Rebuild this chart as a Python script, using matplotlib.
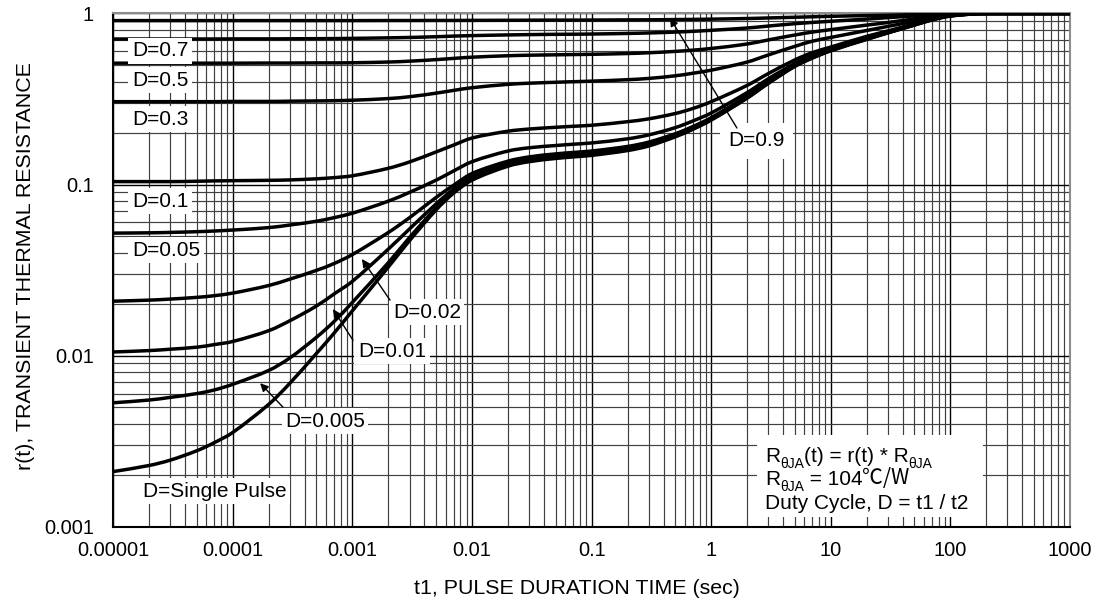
import matplotlib
matplotlib.use("Agg")
import numpy as np
import matplotlib.pyplot as plt
from matplotlib.patches import Rectangle, PathPatch
from matplotlib.path import Path

plt.rcParams['font.family'] = ['Liberation Sans', 'DejaVu Sans']

# ---------------- data ----------------
TIME = [1e-5, 2e-5, 3e-5, 5e-5, 7e-5,
        1e-4, 2e-4, 3e-4, 5e-4, 7e-4,
        1e-3, 2e-3, 3e-3, 5e-3, 7e-3,
        1e-2, 2e-2, 3e-2, 5e-2, 7e-2,
        0.1, 0.2, 0.3, 0.5, 0.7,
        1, 2, 3, 5, 7,
        10, 20, 30, 50, 70,
        100, 200, 300, 500, 700, 1000]

R_D09 = [0.908, 0.908, 0.908, 0.908, 0.908,
         0.908, 0.908, 0.908, 0.908, 0.908,
         0.908, 0.909, 0.909, 0.910, 0.910,
         0.911, 0.912, 0.913, 0.914, 0.914,
         0.915, 0.917, 0.918, 0.921, 0.923,
         0.926, 0.934, 0.941, 0.950, 0.956,
         0.962, 0.972, 0.977, 0.985, 0.991,
         0.996, 1.0, 1.0, 1.0, 1.0, 1.0]
R_D07 = [0.709, 0.709, 0.709, 0.709, 0.709,
         0.710, 0.710, 0.711, 0.712, 0.713,
         0.715, 0.720, 0.724, 0.731, 0.737,
         0.742, 0.749, 0.752, 0.755, 0.756,
         0.758, 0.764, 0.769, 0.778, 0.786,
         0.797, 0.822, 0.844, 0.871, 0.886,
         0.900, 0.927, 0.945, 0.967, 0.982,
         0.994, 1.0, 1.0, 1.0, 1.0, 1.0]
R_D05 = [0.512, 0.512, 0.512, 0.512, 0.512,
         0.512, 0.513, 0.513, 0.514, 0.514,
         0.515, 0.520, 0.526, 0.537, 0.546,
         0.555, 0.566, 0.570, 0.573, 0.575,
         0.577, 0.583, 0.589, 0.600, 0.610,
         0.624, 0.663, 0.700, 0.748, 0.778,
         0.804, 0.855, 0.885, 0.930, 0.962,
         0.986, 1.0, 1.0, 1.0, 1.0, 1.0]
R_D03 = [0.305, 0.305, 0.305, 0.305, 0.305,
         0.306, 0.306, 0.307, 0.308, 0.309,
         0.311, 0.318, 0.326, 0.342, 0.355,
         0.368, 0.385, 0.391, 0.396, 0.399,
         0.402, 0.410, 0.417, 0.432, 0.447,
         0.466, 0.520, 0.572, 0.642, 0.688,
         0.724, 0.795, 0.840, 0.900, 0.947,
         0.981, 1.0, 1.0, 1.0, 1.0, 1.0]
R_D01 = [0.104, 0.104, 0.104, 0.1045, 0.105,
         0.1053, 0.1058, 0.1064, 0.108, 0.1097,
         0.1125, 0.1245, 0.1355, 0.155, 0.170,
         0.187, 0.205, 0.211, 0.216, 0.219,
         0.222, 0.233, 0.242, 0.260, 0.278,
         0.305, 0.380, 0.445, 0.535, 0.590,
         0.636, 0.735, 0.790, 0.870, 0.930,
         0.975, 1.0, 1.0, 1.0, 1.0, 1.0]
R_D005 = [0.052, 0.0522, 0.0525, 0.053, 0.0535,
          0.0542, 0.056, 0.058, 0.061, 0.064,
          0.068, 0.080, 0.090, 0.106, 0.120,
          0.136, 0.157, 0.164, 0.169, 0.172,
          0.175, 0.185, 0.195, 0.215, 0.235,
          0.262, 0.345, 0.415, 0.510, 0.567,
          0.618, 0.720, 0.780, 0.862, 0.925,
          0.972, 1.0, 1.0, 1.0, 1.0, 1.0]
R_D002 = [0.0208, 0.0211, 0.0214, 0.0219, 0.0224,
          0.0232, 0.0257, 0.028, 0.0315, 0.0345,
          0.039, 0.0525, 0.064, 0.084, 0.099,
          0.116, 0.137, 0.145, 0.151, 0.154,
          0.157, 0.167, 0.177, 0.198, 0.218,
          0.246, 0.330, 0.400, 0.500, 0.557,
          0.612, 0.715, 0.775, 0.860, 0.923,
          0.971, 1.0, 1.0, 1.0, 1.0, 1.0]
R_D001 = [0.0105, 0.0107, 0.0109, 0.0112, 0.0116,
          0.0121, 0.0140, 0.0160, 0.0195, 0.0229,
          0.0272, 0.042, 0.055, 0.077, 0.094,
          0.111, 0.132, 0.140, 0.146, 0.149,
          0.152, 0.162, 0.172, 0.194, 0.214,
          0.242, 0.325, 0.395, 0.495, 0.553,
          0.609, 0.713, 0.773, 0.858, 0.922,
          0.970, 1.0, 1.0, 1.0, 1.0, 1.0]
R_D0005 = [0.0053, 0.0055, 0.0057, 0.0060, 0.0063,
           0.0068, 0.0082, 0.0097, 0.0128, 0.0158,
           0.0205, 0.035, 0.049, 0.073, 0.091,
           0.108, 0.130, 0.138, 0.144, 0.147,
           0.150, 0.160, 0.170, 0.192, 0.212,
           0.240, 0.322, 0.392, 0.492, 0.550,
           0.607, 0.708, 0.771, 0.856, 0.918,
           0.967, 1.0, 1.0, 1.0, 1.0, 1.0]
R_SINGLE = [0.0021, 0.00228, 0.00245, 0.00278, 0.0031,
            0.00356, 0.0052, 0.0069, 0.0103, 0.0135,
            0.0183, 0.033, 0.047, 0.071, 0.089,
            0.106, 0.128, 0.136, 0.142, 0.145,
            0.148, 0.158, 0.168, 0.190, 0.210,
            0.238, 0.320, 0.390, 0.490, 0.548,
            0.605, 0.705, 0.770, 0.855, 0.915,
            0.965, 1.0, 1.0, 1.0, 1.0, 1.0]

CURVES = [R_D09, R_D07, R_D05, R_D03, R_D01, R_D005, R_D002, R_D001, R_D0005, R_SINGLE]

X_TICKS = [1e-5, 1e-4, 1e-3, 1e-2, 1e-1, 1, 10, 100, 1000]
X_TICKLABELS = ["0.00001", "0.0001", "0.001", "0.01", "0.1", "1", "10", "100", "1000"]
Y_TICKS = [0.001, 0.01, 0.1, 1]
Y_TICKLABELS = ["0.001", "0.01", "0.1", "1"]


def smooth_curve_path(x, y):
    """Cubic Bezier path through the data points, built in log-log space
    (the points themselves are unchanged; only the drawn segments are curved)."""
    lx = np.log10(np.asarray(x, float))
    ly = np.log10(np.asarray(y, float))
    d = np.diff(ly) / np.diff(lx)
    m = np.zeros_like(lx)
    m[0], m[-1] = d[0], d[-1]
    for i in range(1, len(lx) - 1):
        if d[i - 1] * d[i] > 0:
            m[i] = (ly[i + 1] - ly[i - 1]) / (lx[i + 1] - lx[i - 1])
    verts = [(lx[0], ly[0])]
    codes = [Path.MOVETO]
    for i in range(len(lx) - 1):
        h = lx[i + 1] - lx[i]
        verts += [(lx[i] + h / 3, ly[i] + m[i] * h / 3),
                  (lx[i + 1] - h / 3, ly[i + 1] - m[i + 1] * h / 3),
                  (lx[i + 1], ly[i + 1])]
        codes += [Path.CURVE4] * 3
    verts = 10.0 ** np.array(verts)
    return Path(verts, codes)


# ---------------- figure ----------------
fig = plt.figure(figsize=(11, 6.11), dpi=100)
ax = fig.add_axes([0.103, 0.138, 0.8697, 0.840])
ax.set_xscale('log')
ax.set_yscale('log')
ax.set_xlim(1e-5, 1000)
ax.set_ylim(0.001, 1)

ax.set_xticks(X_TICKS)
ax.set_xticklabels(X_TICKLABELS)
ax.set_yticks(Y_TICKS)
ax.set_yticklabels(Y_TICKLABELS)
ax.tick_params(axis='both', which='both', length=0, labelsize=14.4)
ax.tick_params(axis='x', pad=10)
ax.tick_params(axis='y', pad=14)

ax.grid(True, which='minor', color='0.25', lw=0.85, zorder=0)
ax.grid(True, which='major', color='0.0', lw=1.0, zorder=0)
ax.set_axisbelow(True)

for s in ['left', 'bottom']:
    ax.spines[s].set_color('black')
    ax.spines[s].set_linewidth(1.5)
for s in ['top', 'right']:
    ax.spines[s].set_color('0.55')
    ax.spines[s].set_linewidth(1.5)

for r in CURVES:
    ax.add_patch(PathPatch(smooth_curve_path(TIME, r), fill=False, edgecolor='black',
                           lw=2.5, capstyle='butt', joinstyle='round', zorder=3))

box = dict(facecolor='white', edgecolor='none', pad=2.5)
FS = 15
# labels on the left
ax.text(1.43e-5, 0.604, "D=0.7", fontsize=FS, va='center', ha='left', bbox=box, zorder=4)
ax.text(1.43e-5, 0.408, "D=0.5", fontsize=FS, va='center', ha='left', bbox=box, zorder=4)
ax.text(1.43e-5, 0.2415, "D=0.3", fontsize=FS, va='center', ha='left', bbox=box, zorder=4)
ax.text(1.43e-5, 0.080, "D=0.1", fontsize=FS, va='center', ha='left', bbox=box, zorder=4)
ax.text(1.43e-5, 0.0414, "D=0.05", fontsize=FS, va='center', ha='left', bbox=box, zorder=4)
ax.text(1.77e-5, 0.00161, "D=Single Pulse", fontsize=FS, va='center', ha='left', bbox=box, zorder=4)

arrow = dict(arrowstyle='-|>', color='black', lw=1.0, mutation_scale=12,
             shrinkA=0, shrinkB=0)
ax.text(2.18e-3, 0.01796, "D=0.02", fontsize=FS, va='center', ha='left', bbox=box, zorder=4)
ax.annotate("", xy=(1.2e-3, 0.0367), xytext=(2.06e-3, 0.0211), arrowprops=arrow, zorder=5)
ax.text(1.11e-3, 0.0106, "D=0.01", fontsize=FS, va='center', ha='left', bbox=box, zorder=4)
ax.annotate("", xy=(6.87e-4, 0.0187), xytext=(1.01e-3, 0.0123), arrowprops=arrow, zorder=5)
ax.text(2.73e-4, 0.00414, "D=0.005", fontsize=FS, va='center', ha='left', bbox=box, zorder=4)
ax.annotate("", xy=(1.69e-4, 0.0069), xytext=(2.62e-4, 0.0050), arrowprops=arrow, zorder=5)
ax.text(1.38, 0.1797, "D=0.9", fontsize=FS, va='center', ha='left',
        bbox=dict(facecolor='white', edgecolor='none', pad=6), zorder=4)
ax.annotate("", xy=(0.452, 0.941), xytext=(1.64, 0.214), arrowprops=arrow, zorder=5)

# info box
ax.add_patch(Rectangle((0.673, 0.019), 0.236, 0.160, transform=ax.transAxes,
                       facecolor='white', edgecolor='none', zorder=2))
SUB = 10


def line(pieces, x, y):
    prev = None
    prev_dy = 0.0
    for txt, sub, fam in pieces:
        fs = SUB if sub else FS
        fam = fam or ['Liberation Sans', 'DejaVu Sans']
        dy = -3.5 if sub else 0.0
        if prev is None:
            prev = ax.text(x, y, txt, fontsize=fs, family=fam, transform=ax.transAxes,
                           ha='left', va='bottom', zorder=6)
        else:
            prev = ax.annotate(txt, xy=(1, 0), xycoords=prev, xytext=(0, dy - prev_dy),
                               textcoords='offset points', fontsize=fs, family=fam,
                               ha='left', va='bottom', zorder=6)
        prev_dy = dy


line([("R", False, None), ("θJA", True, None), ("(t) = r(t) * R", False, None), ("θJA", True, None)],
     0.681, 0.118)
line([("R", False, None), ("θJA", True, None), (" = 104", False, None),
      ("℃/W", False, ['Noto Sans CJK SC', 'DejaVu Sans'])], 0.681, 0.073)
line([("Duty Cycle, D = t1 / t2", False, None)], 0.681, 0.026)

fig.text(0.0236, 0.565, "r(t), TRANSIENT THERMAL RESISTANCE", rotation=90,
         fontsize=15.4, ha='center', va='center')
fig.text(0.5245, 0.0376, "t1, PULSE DURATION TIME (sec)", fontsize=15.4,
         ha='center', va='center')

fig.savefig("out.png", dpi=100)
